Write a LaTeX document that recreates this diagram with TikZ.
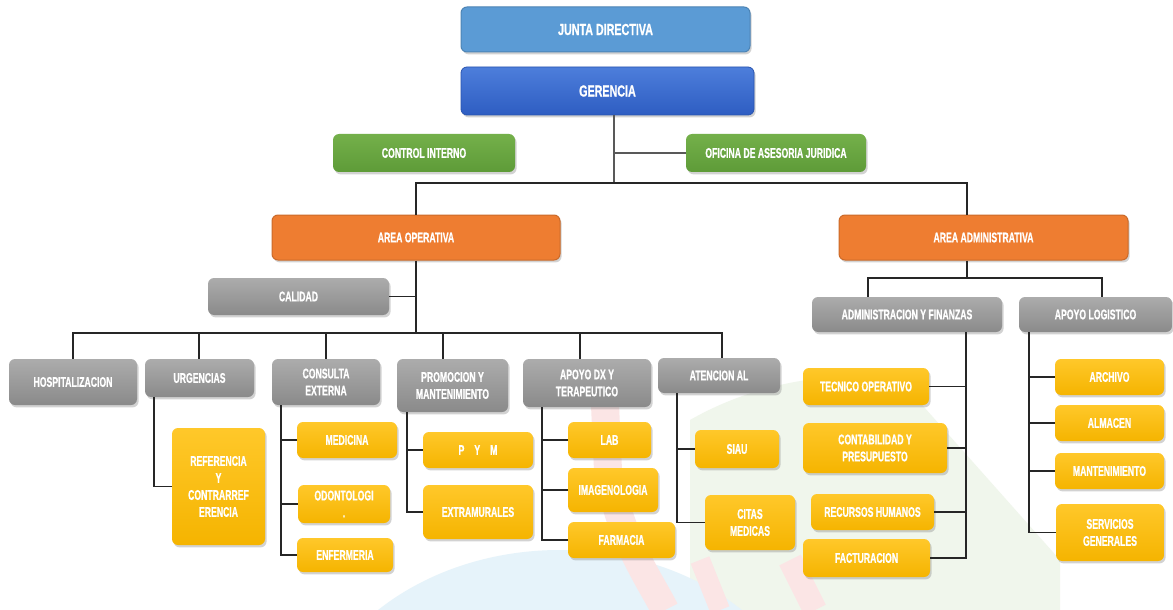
\documentclass[tikz,border=0pt]{standalone}
\usepackage{fontspec}
\setmainfont{Liberation Sans}[FakeStretch=0.62, BoldFeatures={FakeBold=0.8}]
\newfontfamily\topfont{Liberation Sans}[FakeStretch=0.67, BoldFeatures={FakeBold=0.8}]
\usetikzlibrary{shadows}
\definecolor{jblue}{HTML}{5B9BD5}
\definecolor{gtop}{HTML}{4D7EDB}
\definecolor{gbot}{HTML}{2E5DC2}
\definecolor{grtop}{HTML}{74B04A}
\definecolor{grbot}{HTML}{5E9B38}
\definecolor{orng}{HTML}{EE7D31}
\definecolor{gytop}{HTML}{ACACAC}
\definecolor{gybot}{HTML}{8A8A8A}
\definecolor{ytop}{HTML}{FFC82A}
\definecolor{ybot}{HTML}{F5B400}
\definecolor{wblue}{HTML}{E6F3FA}
\definecolor{wred}{HTML}{FBE5E5}
\definecolor{wgreen}{HTML}{F0F6EC}
\newcommand\bx[7]{\node[#2, minimum width={(#5-#3)*0.5pt}, minimum height={(#6-#4)*0.5pt}] (#1) at ({(#3+#5)/2},{(#4+#6)/2}) {#7};}
\tikzset{
  base/.style={rounded corners=3pt, text=white, font=\bfseries\fontsize{7}{8.5}\selectfont, align=center, inner sep=1pt,
    drop shadow={opacity=0.35, shadow xshift=0.8pt, shadow yshift=-1.2pt}},
  jbox/.style={base, fill=jblue, draw=jblue!85!black, line width=0.5pt, font=\topfont\bfseries\fontsize{8}{9}\selectfont},
  gbox/.style={base, top color=gtop, bottom color=gbot, draw=gbot!90!black, line width=0.4pt, font=\topfont\bfseries\fontsize{8}{9}\selectfont},
  grbox/.style={base, top color=grtop, bottom color=grbot},
  obox/.style={base, fill=orng, draw=orng!85!black, line width=0.5pt},
  gybox/.style={base, top color=gytop, bottom color=gybot},
  ybox/.style={base, top color=ytop, bottom color=ybot},
  conn/.style={draw=black!85, line width=0.75pt},
}
\begin{document}
\begin{tikzpicture}[x=0.5pt,y=-0.5pt]
\useasboundingbox (0,0) rectangle (1173,610);
\fill[white] (0,0) rectangle (1173,610);
% faint watermark
\begin{scope}
\clip (0,0) rectangle (1173,610);
\fill[wgreen] (690,420) .. controls (760,380) and (840,370) .. (900,380) -- (1060,560) -- (1060,610) -- (690,610) -- cycle;
\fill[wblue] (560,760) ellipse [x radius=260, y radius=210];
\draw[wred, line width=14pt] (605,405) -- (608,470) .. controls (620,540) and (650,580) .. (665,610);
\draw[wred, line width=10pt] (700,560) -- (720,610);
\draw[wred, line width=12pt] (790,560) -- (815,610);
\end{scope}
% boxes
\bx{jun}{jbox}{461}{7}{750}{52}{JUNTA DIRECTIVA}
\bx{ger}{gbox}{461}{67}{754}{115}{GERENCIA}
\bx{cin}{grbox}{333}{134}{515}{172}{CONTROL INTERNO}
\bx{ofi}{grbox}{686}{134}{866}{172}{OFICINA DE ASESORIA JURIDICA}
\bx{aop}{obox}{272}{215}{560}{260}{AREA OPERATIVA}
\bx{aad}{obox}{839}{215}{1128}{260}{AREA ADMINISTRATIVA}
\bx{cal}{gybox}{208}{278}{389}{315}{CALIDAD}
\bx{hos}{gybox}{9}{359}{137}{405}{HOSPITALIZACION}
\bx{urg}{gybox}{145}{359}{254}{397}{URGENCIAS}
\bx{con}{gybox}{272}{359}{380}{405}{CONSULTA\\EXTERNA}
\bx{pro}{gybox}{397}{359}{508}{412}{PROMOCION Y\\MANTENIMIENTO}
\bx{apo}{gybox}{523}{359}{651}{407}{APOYO DX Y\\TERAPEUTICO}
\bx{ate}{gybox}{658}{358}{780}{393}{ATENCION AL}
\bx{adm}{gybox}{812}{297}{1002}{332}{ADMINISTRACION Y FINANZAS}
\bx{log}{gybox}{1019}{297}{1172}{332}{APOYO LOGISTICO}
% yellow
\bx{ref}{ybox}{172}{428}{265}{545}{REFERENCIA\\Y\\CONTRARREF\\ERENCIA}
\bx{med}{ybox}{297}{422}{397}{458}{MEDICINA}
\bx{odo}{ybox}{298}{485}{390}{523}{ODONTOLOGI\\.}
\bx{enf}{ybox}{297}{538}{393}{572}{ENFERMERIA}
\bx{pym}{ybox}{423}{432}{533}{468}{P\hspace{5pt}Y\hspace{5pt}M}
\bx{ext}{ybox}{423}{485}{533}{539}{EXTRAMURALES}
\bx{lab}{ybox}{568}{422}{651}{458}{LAB}
\bx{ima}{ybox}{568}{468}{658}{512}{IMAGENOLOGIA}
\bx{far}{ybox}{568}{522}{675}{558}{FARMACIA}
\bx{sia}{ybox}{695}{430}{779}{468}{SIAU}
\bx{cit}{ybox}{705}{495}{795}{550}{CITAS\\MEDICAS}
\bx{tec}{ybox}{803}{368}{929}{405}{TECNICO OPERATIVO}
\bx{cpb}{ybox}{803}{423}{947}{473}{CONTABILIDAD Y\\PRESUPUESTO}
\bx{rrh}{ybox}{811}{494}{934}{530}{RECURSOS HUMANOS}
\bx{fac}{ybox}{803}{539}{930}{577}{FACTURACION}
\bx{arc}{ybox}{1055}{359}{1164}{395}{ARCHIVO}
\bx{alm}{ybox}{1055}{405}{1164}{441}{ALMACEN}
\bx{man}{ybox}{1055}{453}{1164}{489}{MANTENIMIENTO}
\bx{ser}{ybox}{1056}{504}{1164}{561}{SERVICIOS\\GENERALES}
% connectors top
\coordinate (tb) at (614,183);
\coordinate (tl) at (416,183);
\coordinate (tr) at (967,183);
\draw[conn, draw=black!65] (ger.south -| tb) -- (tb);
\draw[conn, draw=black!65] (ofi.west -| tb) -- (ofi.west);
\draw[conn] (aop.north -| tl) -- (tl) -- (tr) -- (aad.north -| tr);
% area operativa
\coordinate (bL) at (73,333);
\coordinate (bR) at (722,333);
\draw[conn] (aop.south) -- (aop.south |- bL);
\draw[conn] (cal.east) -- (cal.east -| aop.south);
\draw[conn] (hos.north -| bL) -- (bL) -- (bR) -- (ate.north -| bR);
\draw[conn] (urg.north -| 199,0) -- (199,333);
\draw[conn] (con.north -| 326,0) -- (326,333);
\draw[conn] (pro.north -| 443,0) -- (443,333);
\draw[conn] (apo.north -| 580,0) -- (580,333);
% children
\draw[conn] (urg.south -| 154,0) |- (ref.west);
\draw[conn] (con.south -| 281,0) |- (enf.west);
\draw[conn] (281,0 |- med.west) -- (med.west);
\draw[conn] (281,0 |- odo.west) -- (odo.west);
\draw[conn] (pro.south -| 407,0) |- (ext.west);
\draw[conn] (407,0 |- pym.west) -- (pym.west);
\draw[conn] (apo.south -| 542,0) |- (far.west);
\draw[conn] (542,0 |- lab.west) -- (lab.west);
\draw[conn] (542,0 |- ima.west) -- (ima.west);
\draw[conn] (ate.south -| 677,0) |- (cit.west);
\draw[conn] (677,0 |- sia.west) -- (sia.west);
% area administrativa
\coordinate (ab) at (967,278);
\coordinate (ab1) at (868,278);
\coordinate (ab2) at (1102,278);
\draw[conn] (aad.south -| ab) -- (ab);
\draw[conn] (adm.north -| ab1) -- (ab1) -- (ab2) -- (log.north -| ab2);
\draw[conn] (adm.south -| 966,0) |- (fac.east);
\draw[conn] (tec.east) -- (tec.east -| 966,0);
\draw[conn] (cpb.east) -- (cpb.east -| 966,0);
\draw[conn] (rrh.east) -- (rrh.east -| 966,0);
\draw[conn] (log.south -| 1029,0) |- (ser.west);
\draw[conn] (1029,0 |- arc.west) -- (arc.west);
\draw[conn] (1029,0 |- alm.west) -- (alm.west);
\draw[conn] (1029,0 |- man.west) -- (man.west);
\end{tikzpicture}
\end{document}
